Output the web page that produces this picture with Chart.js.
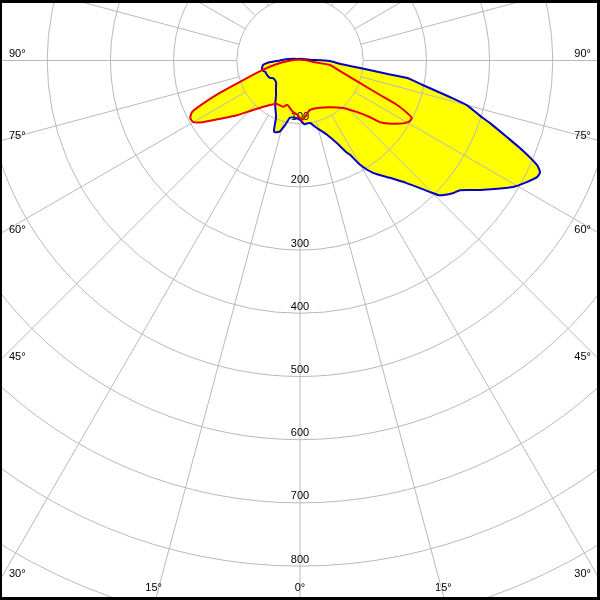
<!DOCTYPE html>
<html>
<head>
<meta charset="utf-8">
<title>Luminous intensity distribution</title>
<script src="https://cdn.jsdelivr.net/npm/chart.js@4.4.1/dist/chart.umd.min.js"></script>
<style>
    html, body { margin: 0; padding: 0; background: #ffffff; }
    #wrap { width: 600px; height: 600px; }
</style>
</head>
<body>
<div id="wrap"><canvas id="polarChart" width="600" height="600"></canvas></div>
<script>
// =============================================================================
// Data (angle in degrees from nadir, negative = left half; intensity in cd)
// =============================================================================

const blueAngles = [-180, -150, -120, -105, -95, -90, -87, -83, -76, -72, -66, -60, -57, -48, -41, -35, -29, -23, -20, -16, -13, -10, -5,
    0, 4, 9, 14, 20, 24, 27, 28, 30, 33, 37.5, 41, 44.7, 46, 49, 51, 54.3, 59.3, 61.8, 63.8, 65, 66.2, 68, 69.7, 71.8, 73, 75, 76.3,
    78.7, 80.7, 81.4, 82.9, 85, 89, 95, 105, 120, 150, 180];
const blueValues = [2, 3, 5, 10, 22, 32, 47, 59, 62, 58, 57, 55, 51, 51, 58, 66, 81, 97, 120, 117, 105, 92, 91,
    94, 101, 100, 110, 125, 143, 164, 169, 191, 212, 234, 257, 293, 307, 320, 326, 351, 392, 407, 418, 419, 410, 380, 349, 316, 297, 273, 244,
    198, 172, 133, 96, 64, 47, 15, 8, 5, 3, 2];

const redAngles = [-180, -120, -95, -83, -76, -71, -68, -66, -64.5, -62.4, -60, -57.6, -54, -49, -43.5, -34, -28, -20, -16, -8, -3,
    2, 5, 11, 20, 33, 42, 48, 51, 52.4, 56.8, 60.3, 62.8, 63.9, 65.4, 66.7, 69.4, 75.3, 81.5, 83.4, 95, 120, 180];
const redValues = [1, 2, 10, 32, 60, 95, 137, 168, 189, 196, 195, 182, 157, 132, 108, 85, 78, 78, 73, 82, 86,
    94, 90, 80, 80, 88, 101, 122, 142, 160, 183, 197, 199, 189, 169, 138, 101, 65, 48, 21, 8, 2, 1];

const ringValues = [100, 200, 300, 400, 500, 600, 700, 800, 900, 1000];
const ringLabels = ['100', '200', '300', '400', '500', '600', '700', '800'];
const spokeAngles = [0, 15, 30, 45, 60, 75, 90, 105, 120, 135, 150, 165, 180, 195, 210, 225, 240, 255, 270, 285, 300, 315, 330, 345];
const sideLabelAngles = [30, 45, 60, 75, 90];
const bottomLabelAngles = [0, 15];

// =============================================================================
// Layout
// =============================================================================

const ORIGIN = { x: 300, y: 60.5 };   // pixel position of the lamp centre
const PX_PER_CD = 0.632;
const SIZE = 600;
const GRID_COLOR = '#b9b9b9';
const FONT = '11px "Liberation Sans", Arial, sans-serif';

const rad = d => d * Math.PI / 180;

function toPoints(angles, values) {
    const pts = angles.map((a, i) => ({
        x: values[i] * Math.sin(rad(a)),
        y: -values[i] * Math.cos(rad(a))
    }));
    pts.push({ ...pts[0] });
    return pts;
}

// =============================================================================
// Grid plugin (drawn between the yellow fills and the outlines)
// =============================================================================

function drawGrid(chart) {
    const ctx = chart.ctx;
    const xs = chart.scales.x;
    const ys = chart.scales.y;
    const ox = xs.getPixelForValue(0);
    const oy = ys.getPixelForValue(0);
    const pt = (v, a) => ({
        x: xs.getPixelForValue(v * Math.sin(rad(a))),
        y: ys.getPixelForValue(-v * Math.cos(rad(a)))
    });

    ctx.save();
    ctx.strokeStyle = GRID_COLOR;
    ctx.lineWidth = 1;

    ringValues.forEach(v => {
        const r = xs.getPixelForValue(v) - ox;
        ctx.beginPath();
        ctx.arc(ox, oy, r, 0, Math.PI * 2);
        ctx.stroke();
    });

    spokeAngles.forEach(a => {
        const p1 = pt(ringValues[0], a);
        const p2 = pt(ringValues[ringValues.length - 1] * 1.5, a);
        ctx.beginPath();
        ctx.moveTo(p1.x, p1.y);
        ctx.lineTo(p2.x, p2.y);
        ctx.stroke();
    });

    // radial value labels
    ctx.fillStyle = '#000000';
    ctx.font = FONT;
    ctx.textAlign = 'center';
    ctx.textBaseline = 'middle';
    ringLabels.forEach(label => {
        const y = ys.getPixelForValue(-Number(label));
        ctx.fillText(label, ox, y - 6.5);
    });

    // angle labels on the left / right edges
    sideLabelAngles.forEach(a => {
        [-1, 1].forEach(side => {
            const edgeX = side < 0 ? 9 : SIZE - 9;
            const lineY = oy + Math.abs(edgeX - ox) * Math.cos(rad(a)) / Math.sin(rad(a));
            const y = lineY - 7 + (90 - a) * 0.27;
            ctx.textAlign = side < 0 ? 'left' : 'right';
            ctx.fillText(a + '°', edgeX, y);
        });
    });

    // angle labels along the bottom edge
    ctx.textAlign = 'center';
    const bottomY = SIZE - 12;
    bottomLabelAngles.forEach(a => {
        const sides = a === 0 ? [0] : [-1, 1];
        sides.forEach(side => {
            const lineX = ox + side * (bottomY - oy) * Math.tan(rad(a));
            const shift = side < 0 ? -5 : (side > 0 ? 2 : 0);
            ctx.fillText(a + '°', lineX + shift, bottomY);
        });
    });

    ctx.restore();
}

const polarGrid = {
    id: 'polarGrid',
    beforeDatasetsDraw(chart) {
        chart.$gridDone = false;
    },
    beforeDatasetDraw(chart, args) {
        if (chart.$gridDone || !chart.data.datasets[args.index].outline) return;
        chart.$gridDone = true;
        drawGrid(chart);
    },
    afterDraw(chart) {
        const ctx = chart.ctx;
        ctx.save();
        ctx.fillStyle = '#000000';
        ctx.fillRect(0, 0, SIZE, 3);
        ctx.fillRect(0, 0, 2, SIZE);
        ctx.fillRect(SIZE - 3, 0, 3, SIZE);
        ctx.fillRect(0, SIZE - 3, SIZE, 3);
        ctx.restore();
    }
};

// =============================================================================
// Chart
// =============================================================================

const bluePoints = toPoints(blueAngles, blueValues);
const redPoints = toPoints(redAngles, redValues);
const TENSION = 0.2;

new Chart(document.getElementById('polarChart').getContext('2d'), {
    type: 'scatter',
    data: {
        datasets: [
            {
                label: 'C90 - C270 fill',
                data: bluePoints,
                showLine: true,
                fill: 'shape',
                tension: TENSION,
                backgroundColor: '#ffff00',
                borderWidth: 0,
                borderColor: 'rgba(0,0,0,0)',
                pointRadius: 0,
                order: 4
            },
            {
                label: 'C0 - C180 fill',
                data: redPoints,
                showLine: true,
                fill: 'shape',
                tension: TENSION,
                backgroundColor: '#ffff00',
                borderWidth: 0,
                borderColor: 'rgba(0,0,0,0)',
                pointRadius: 0,
                order: 3
            },
            {
                label: 'C90 - C270',
                data: bluePoints,
                outline: true,
                showLine: true,
                fill: false,
                tension: TENSION,
                borderColor: '#0000c8',
                borderWidth: 2,
                pointRadius: 0,
                order: 2
            },
            {
                label: 'C0 - C180',
                data: redPoints,
                outline: true,
                showLine: true,
                fill: false,
                tension: TENSION,
                borderColor: '#e80000',
                borderWidth: 2,
                pointRadius: 0,
                order: 1
            }
        ]
    },
    options: {
        responsive: false,
        animation: false,
        layout: { padding: 0 },
        plugins: {
            legend: { display: false },
            tooltip: { enabled: false }
        },
        scales: {
            x: {
                type: 'linear',
                display: false,
                min: -ORIGIN.x / PX_PER_CD,
                max: (SIZE - ORIGIN.x) / PX_PER_CD
            },
            y: {
                type: 'linear',
                display: false,
                min: -(SIZE - ORIGIN.y) / PX_PER_CD,
                max: ORIGIN.y / PX_PER_CD
            }
        }
    },
    plugins: [polarGrid]
});
</script>
</body>
</html>
